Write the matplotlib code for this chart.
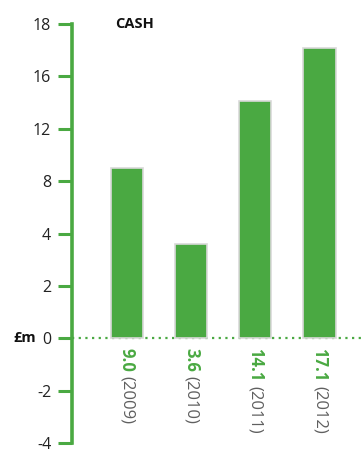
import matplotlib.pyplot as plt
import numpy as np

plt.rcParams['font.family'] = ['Open Sans', 'DejaVu Sans']

GREEN = '#4aa942'
GREY = '#5f5f5f'

years = ['2009', '2010', '2011', '2012']
cash = [9.0, 3.6, 14.1, 17.1]
yticks = [-4, -2, 0, 2, 4, 8, 12, 16, 18]

# uneven axis: every tick gets the same spacing
tick_idx = np.arange(len(yticks), dtype=float)


def fwd(v):
    return np.interp(v, yticks, tick_idx)


def inv(i):
    return np.interp(i, tick_idx, yticks)


fig = plt.figure(figsize=(3.64, 4.53), dpi=100)
ax = fig.add_axes([72 / 364, 10 / 453, 292 / 364, 419 / 453])
ax.set_yscale('function', functions=(fwd, inv))
ax.set_ylim(-4, 18)
ax.set_xlim(-0.857, 3.693)

x = np.arange(len(cash))
ax.bar(x, cash, width=0.5, color=GREEN, edgecolor='#d9d9d9', linewidth=1.2, zorder=3)
ax.axhline(0, color=GREEN, lw=1.6, linestyle=(0, (1, 2)), zorder=2)

for s in ['top', 'right', 'bottom']:
    ax.spines[s].set_visible(False)
ax.spines['left'].set_color(GREEN)
ax.spines['left'].set_linewidth(2.6)
ax.set_xticks([])
ax.set_yticks(yticks)
ax.set_yticklabels([str(t) for t in yticks])
ax.tick_params(axis='y', length=10, width=2.2, color=GREEN, pad=5,
               labelsize=11.5, labelcolor='#222222')

ax.text(-0.125, 0, '£m', transform=ax.get_yaxis_transform(), ha='right', va='center',
        fontsize=10.5, fontweight='bold', color='#111111')
ax.text(0.147, 18, 'CASH', transform=ax.get_yaxis_transform(), ha='left', va='center',
        fontsize=10.5, fontweight='bold', color='#111111')

for xi, v, yr in zip(x, cash, years):
    t = ax.annotate(f'{v:.1f}', xy=(xi, 0), xytext=(0, -7), textcoords='offset points',
                    rotation=-90, ha='center', va='top', fontsize=12,
                    fontweight='bold', color=GREEN)
    ax.annotate(f'({yr})', xy=(0.5, 0), xycoords=t, xytext=(0, -3),
                textcoords='offset points', rotation=-90, ha='center', va='top',
                fontsize=12, color=GREY)

fig.savefig('out.png', dpi=100)
